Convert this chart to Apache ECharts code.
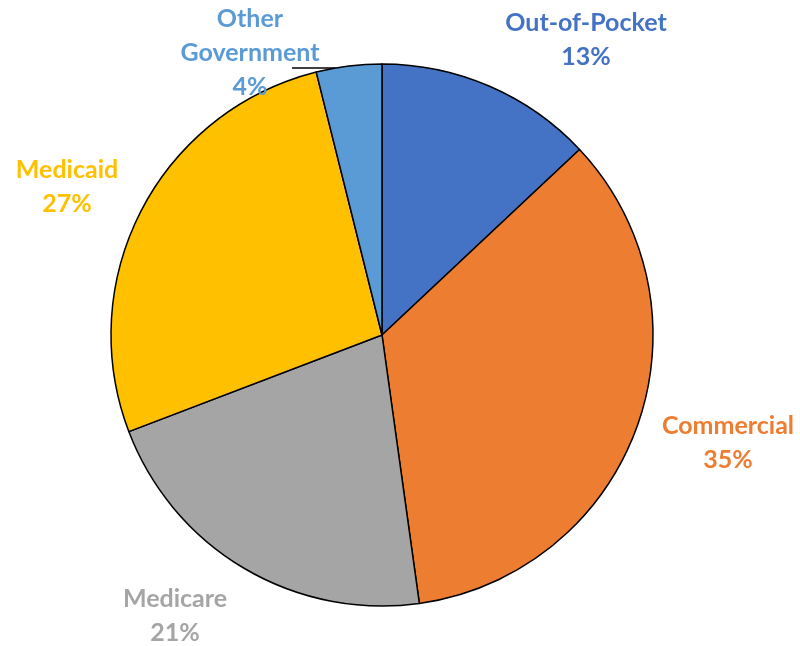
<!DOCTYPE html>
<html>
<head>
<meta charset="utf-8">
<script src="https://cdn.jsdelivr.net/npm/echarts@6/dist/echarts.min.js"></script>
<style>
  html, body { margin: 0; padding: 0; background: #fff; }
  #chart { width: 800px; height: 646px; }
</style>
</head>
<body>
<div id="chart"></div>
<script>
// data
var payers = ['Out-of-Pocket', 'Commercial', 'Medicare', 'Medicaid', 'Other Government'];
var shares = [13, 34.8, 21.4, 26.9, 3.9];
var labelNames = ['Out-of-Pocket', 'Commercial', 'Medicare', 'Medicaid', 'Other\nGovernment'];

// styling
var colors = ['#4472C4', '#ED7D31', '#A5A5A5', '#FFC000', '#5B9BD5'];
// where each label's centre sits (Excel moved these by hand)
var labelSpots = [[586, 40], [728, 443], [175, 616], [67, 187], [250, 53]];

var chart = echarts.init(document.getElementById('chart'));

var pieData = payers.map(function (p, i) {
    return {
        name: p,
        value: shares[i],
        itemStyle: { color: colors[i] },
        label: { color: colors[i] },
        labelLine: { show: i === 4 }
    };
});

chart.setOption({
    animation: false,
    series: [{
        type: 'pie',
        center: [382, 335],
        radius: 271,
        startAngle: 90,
        clockwise: true,
        data: pieData,
        itemStyle: {
            borderColor: '#000',
            borderWidth: 1.5
        },
        label: {
            show: true,
            position: 'outside',
            overflow: 'none',
            fontFamily: 'Lato',
            fontWeight: 'bold',
            fontSize: 25,
            lineHeight: 34,
            align: 'center',
            formatter: function (p) {
                return labelNames[p.dataIndex] + '\n' + Math.round(p.value) + '%';
            }
        },
        labelLine: {
            lineStyle: { color: '#000', width: 1.5 }
        },
        labelLayout: function (params) {
            var s = labelSpots[params.dataIndex];
            var out = { x: s[0], y: s[1], align: 'center', verticalAlign: 'middle' };
            if (params.dataIndex === 4) {
                // short leader from the label over to the pie rim
                var y = 68, r = 271;
                var edgeX = 382 - Math.sqrt(r * r - (335 - y) * (335 - y));
                out.labelLinePoints = [[292, y], [edgeX, y], [edgeX, y]];
            }
            return out;
        }
    }]
});
</script>
</body>
</html>
